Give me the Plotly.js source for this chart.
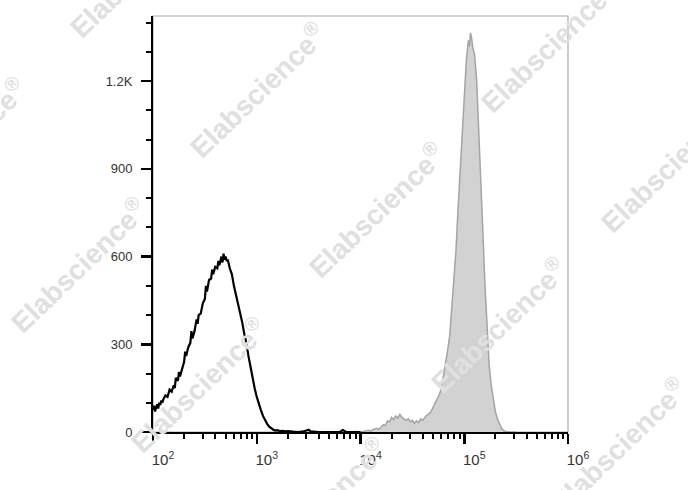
<!DOCTYPE html>
<html>
<head>
<meta charset="utf-8">
<script src="https://cdn.plot.ly/plotly-3.0.1.min.js"></script>
<style>html,body{margin:0;padding:0;background:#fff;}#chart{width:688px;height:490px;}</style>
</head>
<body>
<div id="chart"></div>
<script>
// Unstained control (black line): log10 fluorescence intensity and event counts
const controlLogX = [2.00,2.01,2.02,2.03,2.04,2.05,2.06,2.07,2.08,2.09,2.10,2.12,2.14,2.16,2.18,2.20,2.21,2.22,2.24,2.25,2.26,2.28,2.30,2.31,2.32,2.34,2.36,2.37,2.38,2.40,2.42,2.43,2.44,2.46,2.48,2.50,2.51,2.52,2.54,2.56,2.57,2.58,2.60,2.62,2.63,2.64,2.66,2.67,2.68,2.69,2.70,2.71,2.72,2.74,2.76,2.78,2.80,2.82,2.84,2.86,2.88,2.90,2.92,2.94,2.96,2.98,3.00,3.02,3.04,3.06,3.08,3.10,3.12,3.14,3.16,3.18,3.20,3.22,3.25,3.28,3.30,3.35,3.40,3.45,3.50,3.52,3.60,3.80,3.83,3.86,4.00];
const controlCount = [75,90,70,85,95,80,100,92,108,100,112,125,120,145,138,160,150,185,175,205,190,215,240,275,260,290,305,345,320,345,385,370,400,405,440,455,500,480,520,525,555,540,565,560,585,570,600,580,610,590,600,585,590,560,540,500,470,440,410,375,335,305,260,220,185,150,120,95,75,55,40,28,18,12,8,5,6,3,4,2,3,1,0,2,8,2,0,0,7,0,0];

// Stained sample (grey filled): log10 fluorescence intensity and event counts
const stainedLogX = [3.90,3.95,4.00,4.05,4.08,4.10,4.12,4.15,4.18,4.20,4.22,4.24,4.26,4.28,4.30,4.32,4.34,4.36,4.38,4.40,4.42,4.44,4.46,4.48,4.50,4.52,4.54,4.56,4.58,4.60,4.62,4.64,4.66,4.68,4.70,4.72,4.74,4.76,4.78,4.80,4.82,4.84,4.86,4.88,4.90,4.92,4.94,4.96,4.98,5.00,5.02,5.04,5.05,5.06,5.07,5.08,5.10,5.12,5.14,5.16,5.18,5.20,5.22,5.24,5.26,5.28,5.30,5.32,5.34,5.36,5.38,5.40,5.44,5.50];
const stainedCount = [0,2,0,3,6,2,8,12,10,18,25,22,38,35,50,42,55,48,60,50,45,40,45,35,40,30,38,32,45,40,50,58,62,70,85,100,112,128,150,190,230,280,330,420,520,620,760,900,1040,1170,1270,1340,1320,1365,1350,1320,1290,1200,1040,860,680,500,350,230,160,110,70,45,25,12,5,2,0,0];

// Axis ticks
const xTickVals = [1e2,1e3,1e4,1e5,1e6];
const xTickText = ['10<sup>2</sup>','10<sup>3</sup>','10<sup>4</sup>','10<sup>5</sup>','10<sup>6</sup>'];
const yTickVals = [0,300,600,900,1200];
const yTickText = ['0','300','600','900','1.2K'];

const toLinear = a => a.map(v => Math.pow(10, v));

const xMinor = [];
for (let d = 2; d < 6; d++) for (let k = 2; k <= 9; k++) xMinor.push(k * Math.pow(10, d));
const yMinor = [];
for (let v = 100; v <= 1400; v += 100) if (v % 300 !== 0) yMinor.push(v);

const fam = '"Liberation Sans", Arial, sans-serif';

const traces = [
  {x: toLinear(stainedLogX), y: stainedCount, type:'scatter', mode:'lines',
   fill:'tozeroy', fillcolor:'#d2d2d2', line:{color:'#a4a4a4', width:1.5}, hoverinfo:'skip'},
  {x: toLinear(controlLogX), y: controlCount, type:'scatter', mode:'lines',
   line:{color:'#000', width:2.2}, hoverinfo:'skip'}
];

// Watermarks (pixel positions converted to paper coords)
const wmPix = [[137,-30],[257,90],[376,210],[498,325],[618,445],[-42,145],[78,265],[198,385],[318,505],[548,45],[668,165]];
const L = 153, R = 568, T = 16, B = 432;
const annotations = wmPix.map(p => ({
  xref:'paper', yref:'paper',
  x:(p[0]-L)/(R-L), y:(B-p[1])/(B-T),
  text:'Elabscience<sup>®</sup>', showarrow:false, textangle:-44,
  xanchor:'center', yanchor:'middle',
  font:{family:fam, size:28, color:'#e0e0e0', weight:'bold'}
}));

const layout = {
  width:688, height:490,
  margin:{l:L, r:688-R, t:T, b:490-B},
  paper_bgcolor:'#fff', plot_bgcolor:'#fff',
  showlegend:false,
  xaxis:{type:'log', range:[2,6], tickmode:'array', tickvals:xTickVals, ticktext:xTickText,
    ticks:'outside', ticklen:10, tickwidth:2.5, tickcolor:'#000',
    showline:true, linecolor:'#000', linewidth:2, showgrid:false, zeroline:false,
    tickfont:{family:fam, size:15, color:'#333'}, ticklabelshift:10, ticklabelstandoff:3,
    minor:{tickmode:'array', tickvals:xMinor, ticks:'outside', ticklen:5, tickwidth:2, tickcolor:'#000', showgrid:false}},
  yaxis:{range:[0,1423], tickmode:'array', tickvals:yTickVals, ticktext:yTickText,
    ticks:'outside', ticklen:10, tickwidth:2.5, tickcolor:'#000',
    showline:true, linecolor:'#000', linewidth:2, showgrid:false, zeroline:false,
    tickfont:{family:fam, size:13, color:'#333'}, ticklabelstandoff:6,
    minor:{tickmode:'array', tickvals:yMinor, ticks:'outside', ticklen:5, tickwidth:2, tickcolor:'#000', showgrid:false}},
  shapes:[{type:'rect', xref:'paper', yref:'paper', x0:0, x1:1, y0:0, y1:1,
    line:{color:'#aaaaaa', width:1.2}, layer:'below'}],
  annotations: annotations
};

Plotly.newPlot('chart', traces, layout, {displayModeBar:false, staticPlot:true});
</script>
</body>
</html>
